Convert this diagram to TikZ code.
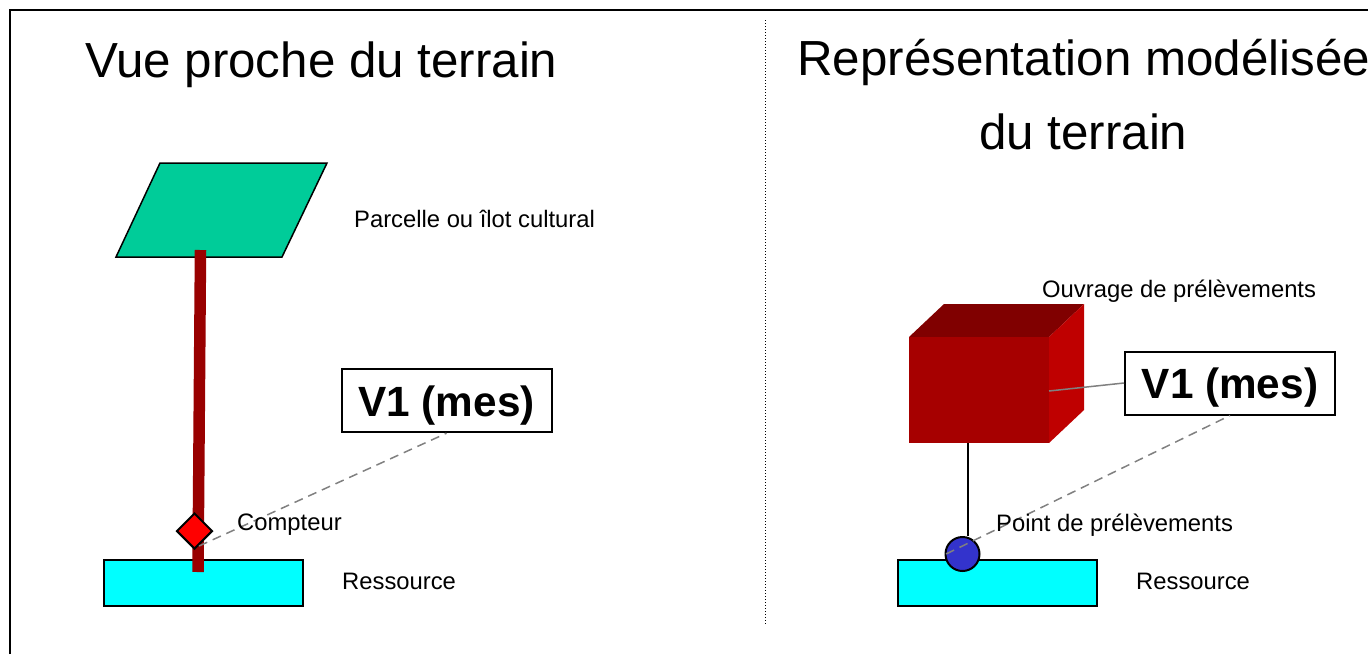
\documentclass[tikz,border=0pt]{standalone}
\usepackage{fontspec}
\setmainfont{Liberation Sans}
\usetikzlibrary{shapes.geometric}
\definecolor{parc}{RGB}{0,204,153}
\definecolor{pipe}{RGB}{153,0,0}
\definecolor{cfront}{RGB}{166,0,0}
\definecolor{ctop}{RGB}{128,0,0}
\definecolor{cside}{RGB}{191,0,0}
\definecolor{pt}{RGB}{51,51,204}
\definecolor{leader}{RGB}{128,128,128}
\definecolor{resfill}{RGB}{0,255,255}
\tikzset{
  titletext/.style={anchor=base west,inner sep=0pt,font=\fontsize{49.3}{59}\selectfont},
  labeltext/.style={anchor=base west,inner sep=0pt,font=\fontsize{23.8}{28}\selectfont},
  valbox/.style={draw=black,line width=2pt,fill=white,inner sep=0pt,minimum width=210pt,minimum height=63pt},
  valtext/.style={anchor=base,inner sep=0pt,font=\fontsize{42.3}{50}\bfseries\selectfont},
  resbox/.style={draw=black,line width=2pt,fill=resfill,inner sep=0pt,minimum width=199pt,minimum height=46.5pt},
  leaderline/.style={draw=leader,line width=1.5pt},
}
\begin{document}
\begin{tikzpicture}[x=1pt,y=-1pt]
\useasboundingbox (0,0) rectangle (1368,654);
\draw[line width=2pt] (10,654) -- (10,10) -- (1368,10);
\draw[black,line width=1pt,dotted] (765,20) -- (765,624);
% titles
\node[titletext] (t1) at (85,77) {Vue proche du terrain};
\node[titletext] (t2) at (797,75) {Représentation modélisée};
\node[titletext] (t3) at (979,149) {du terrain};
% left side
\draw[draw=black,line width=1.5pt,fill=parc] (160,163) -- (327,163) -- (282,257) -- (116,257) -- cycle;
\node[resbox] (r1) at (203.5,583) {};
\coordinate (p1a) at (200.5,250);
\coordinate (p1b) at (198,572);
\draw[pipe,line width=11.5pt] (p1a) -- (p1b);
\node[labeltext] (l1) at (354,227) {Parcelle ou îlot cultural};
\node[labeltext] (l3) at (342,589) {Ressource};
\node[valbox] (v1) at (446.5,400.7) {};
\node[valtext] (v1t) at (446.5,416) {V1 (mes)};
\node[diamond,draw=black,line width=2pt,fill=red,inner sep=0pt,minimum width=36pt,minimum height=36pt] (d) at (194.5,531) {};
\coordinate (dfoot) at (199,546);
\draw[leaderline,dashed,dash pattern=on 9pt off 6pt] (dfoot) -- (v1.south);
\node[labeltext] (l2) at (237,530) {Compteur};
% right side
\coordinate (cA) at (909,337);
\coordinate (cB) at (1049,337);
\coordinate (cC) at (1049,443);
\coordinate (cD) at (909,443);
\coordinate (cE) at (944,304);
\coordinate (cF) at (1084,304);
\coordinate (cG) at (1084,410);
\fill[ctop] (cA) -- (cE) -- (cF) -- (cB) -- cycle;
\fill[cside] (cB) -- (cF) -- (cG) -- (cC) -- cycle;
\fill[cfront] (cA) -- (cB) -- (cC) -- (cD) -- cycle;
\node[resbox] (r2) at (997.5,583) {};
\coordinate (stemtop) at (968,443);
\node[circle,draw=black,line width=2pt,fill=pt,inner sep=0pt,minimum size=34pt] (c) at (962.5,554) {};
\draw[line width=1.5pt] (stemtop) -- (c.north -| stemtop);
\node[valbox] (v2) at (1230,383) {};
\node[valtext] (v2t) at (1230,398.5) {V1 (mes)};
\coordinate (cmid) at (1049,391);
\draw[leaderline] (v2.west) -- (cmid);
\coordinate (cpt) at (946,554);
\draw[leaderline,dashed,dash pattern=on 9pt off 6pt] (cpt) -- (v2.south);
\node[labeltext] (l4) at (1042,297) {Ouvrage de prélèvements};
\node[labeltext] (l5) at (996,531) {Point de prélèvements};
\node[labeltext] (l6) at (1136,589) {Ressource};
\end{tikzpicture}
\end{document}
